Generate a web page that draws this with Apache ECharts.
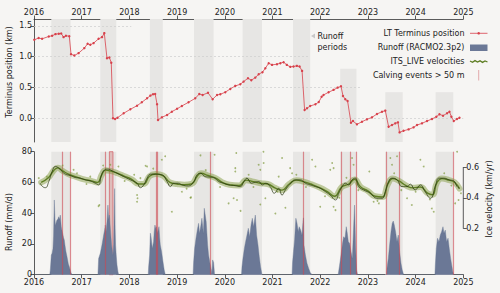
<!DOCTYPE html>
<html><head><meta charset="utf-8">
<script src="https://cdn.jsdelivr.net/npm/echarts@6/dist/echarts.min.js"></script>
<style>html,body{margin:0;padding:0;background:#f6f5f3}#c{width:500px;height:293px}</style>
</head><body><div id="c"></div>
<script>
// ---------------- data ----------------
const yearTicks = [2016, 2017, 2018, 2019, 2020, 2021, 2022, 2023, 2024, 2025];
const terminusTicks = [0, 0.5, 1.0, 1.5];
const runoffTicks = [0, 20, 40, 60, 80];
const velocityTicks = [0.2, 0.4, 0.6];

// LT terminus position (km) [decimal year, km]
const terminus = [
 [2016.006,1.272],[2016.097,1.30],[2016.17,1.288],[2016.31,1.326],[2016.38,1.337],[2016.45,1.364],[2016.52,1.37],[2016.57,1.375],
 [2016.62,1.315],[2016.67,1.337],[2016.74,1.33],[2016.776,1.038],[2016.845,1.016],[2016.935,1.055],[2017.055,1.136],[2017.124,1.207],
 [2017.18,1.19],[2017.25,1.218],[2017.354,1.288],[2017.426,1.315],[2017.474,1.38],[2017.53,0.973],[2017.58,0.984],[2017.62,0.90],
 [2017.656,-0.005],[2017.70,-0.016],[2017.75,0.005],[2017.88,0.077],[2018.02,0.142],[2018.16,0.20],[2018.26,0.256],[2018.37,0.32],
 [2018.44,0.364],[2018.495,0.386],[2018.54,0.391],[2018.58,0.223],[2018.60,-0.033],[2018.68,0.011],[2018.79,0.049],[2018.89,0.103],
 [2019.0,0.150],[2019.10,0.196],[2019.24,0.256],[2019.38,0.32],[2019.465,0.39],[2019.535,0.375],[2019.648,0.41],[2019.745,0.305],
 [2019.837,0.375],[2019.906,0.386],[2020.01,0.42],[2020.115,0.473],[2020.22,0.522],[2020.325,0.549],[2020.394,0.592],[2020.486,0.647],
 [2020.556,0.615],[2020.64,0.657],[2020.71,0.712],[2020.79,0.745],[2020.85,0.81],[2020.92,0.891],[2020.99,0.864],[2021.094,0.875],
 [2021.164,0.891],[2021.233,0.908],[2021.30,0.864],[2021.373,0.832],[2021.44,0.837],[2021.51,0.848],[2021.568,0.837],[2021.62,0.766],
 [2021.673,0.13],[2021.723,0.158],[2021.79,0.196],[2021.90,0.223],[2021.97,0.26],[2022.03,0.345],[2022.07,0.375],[2022.176,0.419],
 [2022.28,0.457],[2022.365,0.494],[2022.436,0.516],[2022.478,0.359],[2022.526,0.305],[2022.574,0.277],[2022.645,-0.076],[2022.687,-0.049],
 [2022.77,-0.103],[2022.876,-0.06],[2022.98,-0.022],[2023.086,0.011],[2023.19,0.065],[2023.296,0.103],[2023.365,0.12],[2023.434,-0.141],
 [2023.505,-0.114],[2023.574,-0.087],[2023.63,-0.071],[2023.664,-0.234],[2023.748,-0.207],[2023.853,-0.185],[2023.958,-0.152],[2024.03,-0.114],
 [2024.134,-0.087],[2024.24,-0.049],[2024.344,-0.016],[2024.435,0.021],[2024.50,0.06],[2024.575,0.038],[2024.66,0.077],[2024.71,0.103],
 [2024.75,0.021],[2024.80,-0.049],[2024.867,-0.016],[2024.92,0.005]
];

// Runoff (RACMO2.3p2), mm/d
const runoff = [
 [2016.0,0],[2016.33,0],[2016.342,3],[2016.363,12.8],[2016.38,14],[2016.398,17],[2016.41,25],[2016.426,48.6],[2016.437,38],[2016.447,32],
 [2016.465,34],[2016.482,35.6],[2016.5,36],[2016.517,37.7],[2016.535,36],[2016.551,38.8],[2016.572,31.2],[2016.585,29],[2016.6,26.9],
 [2016.62,24],[2016.635,22.6],[2016.65,19],[2016.67,15],[2016.69,12],[2016.705,9.6],[2016.72,7],[2016.74,5.2],[2016.76,3],[2016.775,1.5],[2016.796,0],
 [2017.34,0],[2017.355,10.6],[2017.39,13.9],[2017.425,19.3],[2017.46,25.8],[2017.48,29],[2017.495,32.3],[2017.51,28],[2017.53,34.5],
 [2017.55,45.3],[2017.565,36],[2017.58,38.8],[2017.6,30.2],[2017.615,24],[2017.627,19.3],[2017.64,16],[2017.655,12.8],[2017.67,20],
 [2017.683,43],[2017.69,56],[2017.7,30],[2017.71,19],[2017.725,12],[2017.74,6.3],[2017.76,2],[2017.775,0],
 [2018.395,0],[2018.403,5],[2018.424,12.8],[2018.44,27],[2018.453,24.7],[2018.48,17],[2018.507,21.5],[2018.52,28],[2018.536,32.3],
 [2018.55,30],[2018.564,31.2],[2018.59,26.9],[2018.605,29],[2018.62,31.2],[2018.635,24],[2018.648,19.3],[2018.675,15],[2018.704,8.5],
 [2018.73,3],[2018.753,0],
 [2019.335,0],[2019.346,8],[2019.367,17],[2019.396,23.7],[2019.424,29],[2019.45,33.4],[2019.47,26.9],[2019.5,32.3],[2019.52,36.7],
 [2019.55,26.9],[2019.57,43.2],[2019.59,38.8],[2019.61,34.5],[2019.64,19.3],[2019.66,12.8],[2019.69,7.4],[2019.717,3],[2019.73,0.5],
 [2019.745,9.6],[2019.765,8],[2019.786,0],
 [2020.35,0],[2020.36,5],[2020.38,10.6],[2020.41,17],[2020.436,21.5],[2020.465,25.8],[2020.493,30.2],[2020.52,24.7],[2020.55,32.3],
 [2020.577,36.7],[2020.604,31.2],[2020.64,38.8],[2020.667,25.8],[2020.696,19.3],[2020.723,11.7],[2020.75,5.2],[2020.78,0],
 [2021.41,0],[2021.42,8],[2021.44,15],[2021.463,22.6],[2021.49,36.7],[2021.514,33.4],[2021.54,28],[2021.56,31.2],[2021.59,29],
 [2021.618,25.8],[2021.64,34.5],[2021.65,37],[2021.66,19.3],[2021.69,12.8],[2021.723,7.4],[2021.757,4.2],[2021.79,1.5],[2021.83,0],
 [2022.375,0],[2022.386,2],[2022.407,6.3],[2022.436,12.8],[2022.463,19.3],[2022.49,24.7],[2022.52,23.7],[2022.547,31.2],[2022.568,26.9],
 [2022.59,21.5],[2022.616,20.4],[2022.646,15],[2022.673,10.6],[2022.7,30.2],[2022.72,45.3],[2022.742,19],[2022.763,3],[2022.784,0],
 [2023.39,0],[2023.40,4.2],[2023.428,10.6],[2023.455,19.3],[2023.484,28],[2023.51,33.4],[2023.532,34.9],[2023.553,32.3],[2023.58,28],
 [2023.61,21.5],[2023.637,25.8],[2023.665,15],[2023.694,7.4],[2023.72,3],[2023.75,0],
 [2024.405,0],[2024.413,6],[2024.434,17],[2024.46,23.7],[2024.49,21.5],[2024.518,25.8],[2024.545,28],[2024.574,31.2],[2024.595,26.9],
 [2024.622,29],[2024.65,21.5],[2024.68,23.7],[2024.706,17],[2024.734,10.6],[2024.763,5.2],[2024.78,2],[2024.8,0],[2025.0,0]
];

// ITS_LIVE velocities (km/yr): smoothed (green), fine-scale (dark), scattered observations
const velocitySmooth = [
 [2016.15,0.50],[2016.3,0.53],[2016.42,0.58],[2016.5,0.595],[2016.6,0.575],[2016.75,0.55],[2016.9,0.535],[2017.05,0.52],[2017.2,0.51],
 [2017.33,0.50],[2017.42,0.55],[2017.5,0.58],[2017.6,0.575],[2017.75,0.56],[2017.9,0.54],[2018.05,0.52],[2018.2,0.49],[2018.3,0.49],
 [2018.42,0.54],[2018.55,0.555],[2018.7,0.545],[2018.85,0.50],[2019.0,0.49],[2019.15,0.485],[2019.3,0.49],[2019.42,0.54],[2019.5,0.56],
 [2019.65,0.545],[2019.8,0.53],[2019.95,0.50],[2020.1,0.485],[2020.3,0.48],[2020.45,0.515],[2020.6,0.505],[2020.75,0.495],[2020.9,0.49],
 [2021.05,0.465],[2021.2,0.45],[2021.35,0.49],[2021.5,0.515],[2021.65,0.505],[2021.8,0.49],[2022.0,0.465],[2022.15,0.44],[2022.3,0.41],
 [2022.45,0.47],[2022.6,0.49],[2022.72,0.52],[2022.85,0.47],[2023.0,0.445],[2023.15,0.41],[2023.3,0.405],[2023.42,0.49],[2023.52,0.525],
 [2023.65,0.51],[2023.8,0.48],[2023.95,0.465],[2024.1,0.47],[2024.25,0.43],[2024.35,0.42],[2024.45,0.5],[2024.55,0.525],[2024.7,0.515],
 [2024.82,0.5],[2024.92,0.46]
];
const velocityFine = [
 [2016.13,0.495],[2016.18,0.473],[2016.24,0.466],[2016.31,0.506],[2016.38,0.571],[2016.45,0.604],[2016.52,0.593],[2016.59,0.571],
 [2016.66,0.554],[2016.76,0.545],[2016.866,0.532],[2016.97,0.528],[2017.075,0.517],[2017.18,0.51],[2017.285,0.495],[2017.354,0.484],
 [2017.405,0.538],[2017.46,0.576],[2017.543,0.587],[2017.635,0.576],[2017.74,0.56],[2017.88,0.538],[2018.02,0.517],[2018.16,0.495],
 [2018.23,0.466],[2018.30,0.484],[2018.37,0.528],[2018.44,0.554],[2018.54,0.554],[2018.68,0.55],[2018.79,0.506],[2018.86,0.473],
 [2018.93,0.495],[2019.03,0.495],[2019.10,0.484],[2019.24,0.477],[2019.35,0.506],[2019.42,0.55],[2019.49,0.56],[2019.59,0.538],
 [2019.70,0.534],[2019.786,0.528],[2019.87,0.506],[2019.975,0.495],[2020.08,0.484],[2020.22,0.479],[2020.325,0.473],[2020.394,0.502],
 [2020.466,0.528],[2020.556,0.495],[2020.64,0.502],[2020.71,0.506],[2020.79,0.484],[2020.86,0.495],[2020.95,0.473],[2021.04,0.43],
 [2021.13,0.462],[2021.20,0.418],[2021.27,0.451],[2021.37,0.489],[2021.48,0.517],[2021.58,0.517],[2021.69,0.495],[2021.79,0.484],
 [2021.90,0.473],[2022.0,0.462],[2022.11,0.44],[2022.21,0.418],[2022.32,0.386],[2022.39,0.43],[2022.46,0.473],[2022.526,0.495],
 [2022.595,0.484],[2022.667,0.517],[2022.736,0.528],[2022.806,0.473],[2022.91,0.451],[2023.05,0.43],[2023.19,0.397],[2023.296,0.397],
 [2023.365,0.44],[2023.434,0.506],[2023.505,0.528],[2023.61,0.517],[2023.715,0.473],[2023.82,0.473],[2023.89,0.489],[2023.99,0.451],
 [2024.10,0.484],[2024.20,0.44],[2024.31,0.397],[2024.42,0.484],[2024.49,0.528],[2024.59,0.528],[2024.70,0.517],[2024.80,0.51],
 [2024.87,0.473],[2024.92,0.462]
];
const velocityPoints = [
 [2018.75,0.67],[2018.68,0.648],[2018.37,0.604],[2018.23,0.528],[2017.354,0.346],[2018.17,0.397],[2018.16,0.418],[2018.89,0.309],
 [2016.83,0.582],[2017.77,0.604],[2016.27,0.538],[2016.10,0.528],[2017.18,0.538],[2017.60,0.615],[2018.34,0.608],[2018.16,0.374],
 [2017.37,0.353],[2019.29,0.403],[2020.24,0.692],[2020.33,0.315],[2019.49,0.676],[2019.786,0.68],[2020.22,0.593],[2020.22,0.571],
 [2019.28,0.40],[2019.10,0.44],[2020.08,0.364],[2020.185,0.397],[2020.255,0.386],[2020.744,0.357],[2020.71,0.615],[2020.744,0.582],
 [2020.814,0.626],[2020.85,0.397],[2021.06,0.298],[2021.20,0.659],[2021.27,0.335],[2021.37,0.593],[2021.41,0.56],[2021.13,0.538],
 [2021.83,0.648],[2021.90,0.604],[2022.0,0.342],[2020.81,0.70],[2022.25,0.626],[2022.28,0.593],[2022.21,0.582],[2022.32,0.32],
 [2022.28,0.342],[2022.667,0.659],[2022.70,0.615],[2023.47,0.659],[2023.505,0.615],[2023.61,0.67],[2024.10,0.648],[2024.17,0.604],
 [2023.92,0.353],[2024.34,0.331],[2024.38,0.309],[2024.87,0.70],[2024.90,0.386],[2024.83,0.364],[2023.82,0.397],[2023.12,0.374],
 [2023.23,0.364],[2023.03,0.571],
 [2016.6,0.61],[2016.9,0.56],[2017.1,0.49],[2017.45,0.61],[2017.9,0.51],[2018.1,0.55],[2018.5,0.59],[2019.2,0.46],[2019.6,0.58],
 [2019.9,0.47],[2020.5,0.55],[2020.6,0.47],[2021.1,0.44],[2021.5,0.55],[2021.7,0.47],[2022.1,0.41],[2022.4,0.40],[2022.55,0.53],
 [2022.8,0.45],[2023.2,0.38],[2023.55,0.56],[2023.7,0.45],[2024.0,0.44],[2024.3,0.39],[2024.6,0.56],[2024.75,0.48],[2024.95,0.43]
];

// runoff periods [start, end] and calving events (> 50 m)
const runoffPeriods = [
 [2016.363,2016.767],[2017.39,2017.725],[2018.43,2018.70],[2019.354,2019.765],[2020.373,2020.78],
 [2021.43,2021.79],[2022.42,2022.76],[2023.365,2023.73],[2024.42,2024.79]
];
const calvingEvents = [2016.60,2016.767,2017.50,2018.57,2018.585,2019.702,2021.652,2022.453,2022.616,2022.75,2023.39,2023.66,2024.78];
const calvingSpans = [[2017.58,2017.656]];

// ---------------- styling ----------------
const FONT = 'DejaVu Sans';
const C = {
  bg:'#f6f5f3', band:'#e7e6e4', red:'#d8414b', bar:'#6b7896', green:'#5d7d22', dark:'#25330f',
  cloud:'rgba(122,148,52,0.45)', pts:'rgba(125,152,58,0.85)', calv:'rgba(205,70,80,0.6)', grid:'#cdcdcd', axis:'#333', text:'#222'
};
const T_MIN = -0.39, T_MAX = 1.61;
const bandTopCap = {2022:0.80, 2023:0.42, 2024:0.42};
const gridLineEnds = [[1.5,2018.04],[1.0,2021.75],[0.5,2022.84],[0.0,2025]];

const lbl = {fontFamily:FONT, fontSize:8, color:C.text};
const axLine = {show:true, onZero:false, lineStyle:{color:C.axis, width:0.8}};
const axTick = {show:true, length:3.5, lineStyle:{color:C.axis, width:0.8}};

const xBase = (gi, pos) => ({
  type:'value', gridIndex:gi, position:pos, min:2016, max:2025, interval:1,
  axisLine:axLine, axisTick:axTick, splitLine:{show:false},
  axisLabel:Object.assign({margin:3, formatter:v=>String(v)}, lbl)
});

const topBands = runoffPeriods.map(p => {
  const yr = Math.floor(p[0]);
  const top = bandTopCap[yr] !== undefined ? bandTopCap[yr] : T_MAX;
  return [{xAxis:p[0], yAxis:top}, {xAxis:p[1], yAxis:T_MIN}];
});
const botBands = runoffPeriods.map(p => [{xAxis:p[0]}, {xAxis:p[1]}]);

const option = {
  backgroundColor:C.bg,
  animation:false,
  grid:[
    {left:34, right:36.7, top:19, height:123},
    {left:34, right:36.7, top:151.7, height:123}
  ],
  xAxis:[ xBase(0,'top'), Object.assign(xBase(1,'bottom'), {axisLabel:Object.assign({margin:4, formatter:v=>String(v)}, lbl)}) ],
  yAxis:[
    {type:'value', gridIndex:0, min:T_MIN, max:T_MAX, axisLine:axLine,
     axisTick:Object.assign({customValues:terminusTicks}, axTick), splitLine:{show:false},
     axisLabel:Object.assign({margin:2, customValues:terminusTicks, formatter:v=>v.toFixed(1)}, lbl)},
    {type:'value', gridIndex:1, min:0, max:80, interval:20, axisLine:axLine, axisTick:axTick, splitLine:{show:false},
     axisLabel:Object.assign({margin:2, customValues:runoffTicks}, lbl)},
    {type:'value', gridIndex:1, position:'right', min:-0.1, max:0.7, axisLine:{show:false},
     axisTick:Object.assign({customValues:velocityTicks}, axTick), splitLine:{show:false},
     axisLabel:Object.assign({margin:3, customValues:velocityTicks, formatter:v=>v.toFixed(1)}, lbl)}
  ],
  series:[
    {type:'scatter', xAxisIndex:0, yAxisIndex:0, data:[], silent:true, z:1,
     markArea:{silent:true, itemStyle:{color:C.band}, data:topBands},
     markLine:{silent:true, symbol:'none', label:{show:false},
       lineStyle:{color:C.grid, type:[2,2], width:0.7},
       data:gridLineEnds.map(g => [{coord:[2016,g[0]]},{coord:[g[1],g[0]]}])}},
    {type:'line', name:'LT Terminus position', xAxisIndex:0, yAxisIndex:0, data:terminus, z:5,
     symbol:'circle', symbolSize:2.4, showAllSymbol:true,
     lineStyle:{color:C.red, width:0.8}, itemStyle:{color:C.red}},
    {type:'scatter', xAxisIndex:1, yAxisIndex:1, data:[], silent:true, z:1,
     markArea:{silent:true, itemStyle:{color:C.band}, data:botBands}},
    {type:'line', name:'Runoff', xAxisIndex:1, yAxisIndex:1, data:runoff, z:3, symbol:'none',
     lineStyle:{color:C.bar, width:0.4}, areaStyle:{color:C.bar, opacity:1}},
    {type:'scatter', xAxisIndex:1, yAxisIndex:1, data:[], silent:true, z:4,
     markArea:{silent:true, itemStyle:{color:'rgba(210,110,110,0.35)', borderColor:C.calv, borderWidth:1},
       data:calvingSpans.map(s => [{xAxis:s[0]},{xAxis:s[1]}])},
     markLine:{silent:true, symbol:'none', label:{show:false}, lineStyle:{color:C.calv, width:1.2, type:'solid'},
       data:calvingEvents.map(x => ({xAxis:x}))}},
    {type:'line', xAxisIndex:1, yAxisIndex:2, data:velocitySmooth, z:5, symbol:'none', smooth:true,
     lineStyle:{color:C.cloud, width:6, cap:'round'}},
    {type:'scatter', xAxisIndex:1, yAxisIndex:2, data:velocityPoints, z:6, symbolSize:1.8,
     itemStyle:{color:C.pts}},
    {type:'line', name:'ITS_LIVE velocities', xAxisIndex:1, yAxisIndex:2, data:velocitySmooth, z:7, symbol:'none', smooth:true,
     lineStyle:{color:C.green, width:1.4}},
    {type:'line', xAxisIndex:1, yAxisIndex:2, data:velocityFine, z:8, symbol:'none', smooth:true,
     lineStyle:{color:C.dark, width:0.7}},
    {type:'line', xAxisIndex:1, yAxisIndex:2, data:[[2025,0.2],[2025,0.6]], z:9, symbol:'none', clip:false,
     lineStyle:{color:C.axis, width:0.8}}
  ],
  graphic:[
    {type:'text', x:9.5, y:72, rotation:Math.PI/2, style:{text:'Terminus position (km)', font:'8px "DejaVu Sans"', fill:C.text, align:'center', verticalAlign:'middle'}},
    {type:'text', x:9.5, y:222, rotation:Math.PI/2, style:{text:'Runoff (mm/d)', font:'8px "DejaVu Sans"', fill:C.text, align:'center', verticalAlign:'middle'}},
    {type:'text', x:489.5, y:199, rotation:Math.PI/2, style:{text:'Ice velocity (km/yr)', font:'8px "DejaVu Sans"', fill:C.text, align:'center', verticalAlign:'middle'}},
    {type:'polygon', shape:{points:[[311,36],[315,33.5],[315,38.5]]}, style:{fill:'#c8c8c8'}},
    {type:'text', x:317.5, y:36, style:{text:'Runoff', font:'8px "DejaVu Sans"', fill:C.text, align:'left', verticalAlign:'middle'}},
    {type:'text', x:317.5, y:47.7, style:{text:'periods', font:'8px "DejaVu Sans"', fill:C.text, align:'left', verticalAlign:'middle'}},
    {type:'text', x:464.5, y:33.3, style:{text:'LT Terminus position', font:'8px "DejaVu Sans"', fill:C.text, align:'right', verticalAlign:'middle'}},
    {type:'text', x:464.5, y:47.7, style:{text:'Runoff (RACMO2.3p2)', font:'8px "DejaVu Sans"', fill:C.text, align:'right', verticalAlign:'middle'}},
    {type:'text', x:464.5, y:61.7, style:{text:'ITS_LIVE velocities', font:'8px "DejaVu Sans"', fill:C.text, align:'right', verticalAlign:'middle'}},
    {type:'text', x:464.5, y:75, style:{text:'Calving events > 50 m', font:'8px "DejaVu Sans"', fill:C.text, align:'right', verticalAlign:'middle'}},
    {type:'line', shape:{x1:470,y1:33.3,x2:487.5,y2:33.3}, style:{stroke:C.red, lineWidth:0.8}},
    {type:'circle', shape:{cx:478.7,cy:33.3,r:1.3}, style:{fill:C.red}},
    {type:'rect', shape:{x:470,y:44.5,width:17.5,height:6.5}, style:{fill:C.bar}},
    {type:'polyline', shape:{points:[[470,61],[472.5,62.3],[475,60.6],[477.5,62],[480,60.8],[482.5,62.4],[485,61],[487.5,62]]}, style:{stroke:C.green, lineWidth:1.3, fill:null}},
    {type:'line', shape:{x1:478.7,y1:70,x2:478.7,y2:80.5}, style:{stroke:'rgba(215,120,125,0.6)', lineWidth:1}}
  ]
};
const chart = echarts.init(document.getElementById('c'), null, {renderer:'svg'});
chart.setOption(option);
</script>
</body></html>
